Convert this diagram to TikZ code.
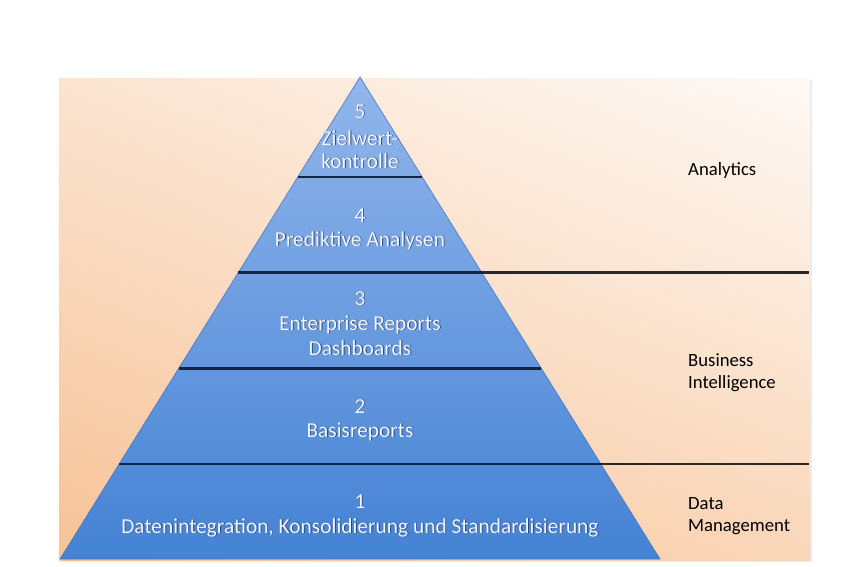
\documentclass[tikz,border=0pt]{standalone}
\usepackage{fontspec}
\setmainfont{Carlito}
\usetikzlibrary{calc,shadings}
\definecolor{peachA}{RGB}{247,194,150}
\definecolor{peachB}{RGB}{250,214,184}
\definecolor{peachC}{RGB}{251,228,209}
\definecolor{peachD}{RGB}{254,249,245}
\definecolor{pyrtop}{RGB}{146,182,236}
\definecolor{pyrbot}{RGB}{68,130,212}
\definecolor{pyredge}{RGB}{70,120,195}
\definecolor{navyline}{RGB}{16,38,72}
\definecolor{grayline}{RGB}{40,40,40}
\definecolor{txtwhite}{RGB}{244,247,252}
\definecolor{txtshadow}{RGB}{40,72,125}
\newcommand\pyrsh[1]{\makebox[0pt][l]{\kern0.9pt\raisebox{-0.9pt}{\textcolor{txtshadow}{#1}}}#1}
\begin{document}
\begin{tikzpicture}[x=1pt,y=-1pt,
  levelline/.style={draw=navyline,line width=2.8pt},
  sideline/.style={draw=grayline,line width=2.6pt},
  pyrtext/.style={font=\fontsize{21.4}{25}\selectfont,text=txtwhite,inner sep=0pt,anchor=base},
  sidetext/.style={font=\fontsize{18.7}{22}\selectfont,text=black,inner sep=0pt,anchor=base west}]
\useasboundingbox (0,0) rectangle (850,566);
\fill[white] (0,0) rectangle (850,566);
\fill[black,opacity=0.08] (61,80) rectangle (812,562);
\shade[lower left=peachA, lower right=peachB, upper left=peachC, upper right=peachD] (59,78) rectangle (810,560);
% pyramid
\coordinate (apex) at (360,77);
\coordinate (bl) at (60,559);
\coordinate (br) at (660,559);
\shade[top color=pyrtop, bottom color=pyrbot, draw=pyredge, line width=0.6pt] (apex) -- (br) -- (bl) -- cycle;
% level boundaries
\coordinate (l54) at ($(apex)!0.2075!(bl)$);
\coordinate (r54) at ($(apex)!0.2075!(br)$);
\coordinate (l43) at ($(apex)!0.4056!(bl)$);
\coordinate (r43) at ($(apex)!0.4056!(br)$);
\coordinate (l32) at ($(apex)!0.6044!(bl)$);
\coordinate (r32) at ($(apex)!0.6044!(br)$);
\coordinate (l21) at ($(apex)!0.8029!(bl)$);
\coordinate (r21) at ($(apex)!0.8029!(br)$);
\coordinate (e43) at (809,0 |- r43);
\coordinate (e21) at (809,0 |- r21);
\draw[levelline] (l54) -- (r54);
\draw[levelline] (l43) -- (r43);
\draw[levelline] (l32) -- (r32);
\draw[levelline] (l21) -- (r21);
\draw[sideline] (r43) -- (e43);
\draw[sideline] (r21) -- (e21);
% pyramid texts
\node[pyrtext] (n5) at (360,118) {\pyrsh{5}};
\node[pyrtext] (t5a) at (360,145) {\pyrsh{Zielwert-}};
\node[pyrtext] (t5b) at (360,168) {\pyrsh{kontrolle}};
\node[pyrtext] (n4) at (360,222) {\pyrsh{4}};
\node[pyrtext] (t4) at (360,246) {\pyrsh{Prediktive Analysen}};
\node[pyrtext] (n3) at (360,305) {\pyrsh{3}};
\node[pyrtext] (t3a) at (360,330) {\pyrsh{Enterprise Reports}};
\node[pyrtext] (t3b) at (360,355) {\pyrsh{Dashboards}};
\node[pyrtext] (n2) at (360,413) {\pyrsh{2}};
\node[pyrtext] (t2) at (360,437) {\pyrsh{Basisreports}};
\node[pyrtext] (n1) at (360,508) {\pyrsh{1}};
\node[pyrtext] (t1) at (360,533) {\pyrsh{Datenintegration, Konsolidierung und Standardisierung}};
% side labels
\node[sidetext] (sa) at (688,175) {Analytics};
\node[sidetext] (sb1) at (688,366) {Business};
\node[sidetext] (sb2) at (688,388) {Intelligence};
\node[sidetext] (sd1) at (688,509) {Data};
\node[sidetext] (sd2) at (688,531) {Management};
\end{tikzpicture}
\end{document}
